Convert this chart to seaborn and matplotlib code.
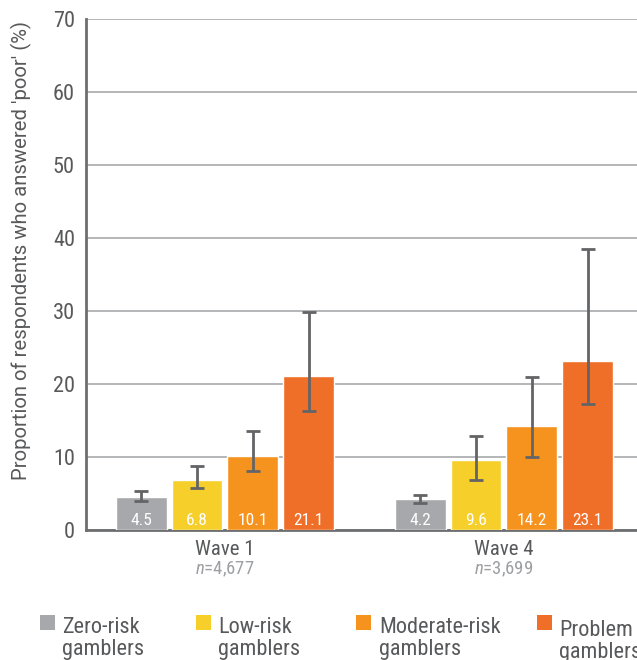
import matplotlib
matplotlib.use("Agg")
import matplotlib.pyplot as plt
import seaborn as sns
import pandas as pd
from matplotlib.patches import Rectangle

# Data
waves = ["Wave 1", "Wave 4"]
sample_sizes = ["4,677", "3,699"]
groups = ["Zero-risk gamblers", "Low-risk gamblers", "Moderate-risk gamblers", "Problem gamblers"]
legend_labels = ["Zero-risk\ngamblers", "Low-risk\ngamblers", "Moderate-risk\ngamblers", "Problem\ngamblers"]
wave1_values = [4.5, 6.8, 10.1, 21.1]
wave4_values = [4.2, 9.6, 14.2, 23.1]
wave1_lower = [4.0, 5.8, 8.1, 16.3]
wave1_upper = [5.4, 8.8, 13.6, 29.9]
wave4_lower = [3.7, 6.9, 10.0, 17.3]
wave4_upper = [4.8, 12.9, 21.0, 38.5]
yticks = [0, 10, 20, 30, 40, 50, 60, 70]

colors = ["#A7A8AB", "#F6CF2A", "#F6931E", "#EF6F29"]
text_grey = "#58595B"
light_grey = "#9D9FA2"
axis_grey = "#6D6E70"
grid_grey = "#A7A9AC"

sns.set_style("white")
plt.rcParams["font.family"] = ["Roboto Condensed", "DejaVu Sans"]
plt.rcParams["mathtext.fontset"] = "custom"
plt.rcParams["mathtext.it"] = "Roboto Condensed:italic"
plt.rcParams["mathtext.rm"] = "Roboto Condensed"

W, H = 637, 660
df = pd.DataFrame({
    "wave": [w for w in waves for _ in groups],
    "group": groups * 2,
    "value": wave1_values + wave4_values,
    "lower": wave1_lower + wave4_lower,
    "upper": wave1_upper + wave4_upper,
})

fig = plt.figure(figsize=(W / 100, H / 100), dpi=100)
ax = fig.add_axes([86 / W, 1 - 530 / H, 1 - 86 / W, (530 - 19) / H])

sns.barplot(data=df, x="wave", y="value", hue="group", order=waves,
            hue_order=groups, palette=colors, width=0.8, gap=0.09,
            errorbar=None, saturation=1, legend=False, ax=ax, zorder=3)

# Error bars and value labels placed at each bar's centre
for container, g in zip(ax.containers, groups):
    sub = df[df["group"] == g].set_index("wave").loc[waves]
    for patch, (_, row) in zip(container.patches, sub.iterrows()):
        cx = patch.get_x() + patch.get_width() / 2
        ax.errorbar(cx, row["value"],
                    yerr=[[row["value"] - row["lower"]], [row["upper"] - row["value"]]],
                    fmt="none", ecolor="#636466", elinewidth=2, capsize=5,
                    capthick=2, zorder=4)
        ax.text(cx, 0.25, f"{row['value']:.1f}", ha="center", va="bottom",
                color="white", fontsize=12.5, zorder=5)

ax.set_ylim(0, 70)
ax.set_xlim(-0.498, 1.477)
ax.set_yticks(yticks)
ax.set_yticklabels([str(t) for t in yticks], fontsize=16, color=text_grey)
ax.yaxis.grid(True, color=grid_grey, linewidth=1.2, zorder=0)
ax.set_axisbelow(True)
ax.tick_params(axis="y", length=0, pad=8)
ax.tick_params(axis="x", length=0, pad=7)

ax.set_xticks(range(len(waves)))
ax.set_xticklabels(waves, fontsize=15, color=text_grey)
for i, n in enumerate(sample_sizes):
    ax.text(i, -5.4, r"$n$" + f"={n}", ha="center", va="center",
            fontsize=13.5, color=light_grey)

ax.set_xlabel("")
ax.set_ylabel("Proportion of respondents who answered 'poor' (%)",
              fontsize=14.6, color=text_grey, family=["Roboto", "DejaVu Sans"])
ax.yaxis.set_label_coords(-(86 - 32) / (W - 86), (530 - 251) / (530 - 19))

for side in ["top", "right"]:
    ax.spines[side].set_visible(False)
for side in ["left", "bottom"]:
    ax.spines[side].set_color(axis_grey)
    ax.spines[side].set_linewidth(2)

# Legend: colour squares with two-line labels beneath the plot
square_x = [40, 196, 356, 537]
text_x = [62, 218, 379, 559]
text_base = [655, 655, 655, 658]
for sx, tx, tb, c, lab in zip(square_x, text_x, text_base, colors, legend_labels):
    fig.add_artist(Rectangle((sx / W, 1 - 630 / H), 15 / W, 15 / H,
                             transform=fig.transFigure, facecolor=c,
                             edgecolor="none"))
    fig.text(tx / W, 1 - tb / H, lab, ha="left", va="baseline",
             fontsize=16, color=text_grey, linespacing=1.05)

fig.savefig("out.png", dpi=100)
